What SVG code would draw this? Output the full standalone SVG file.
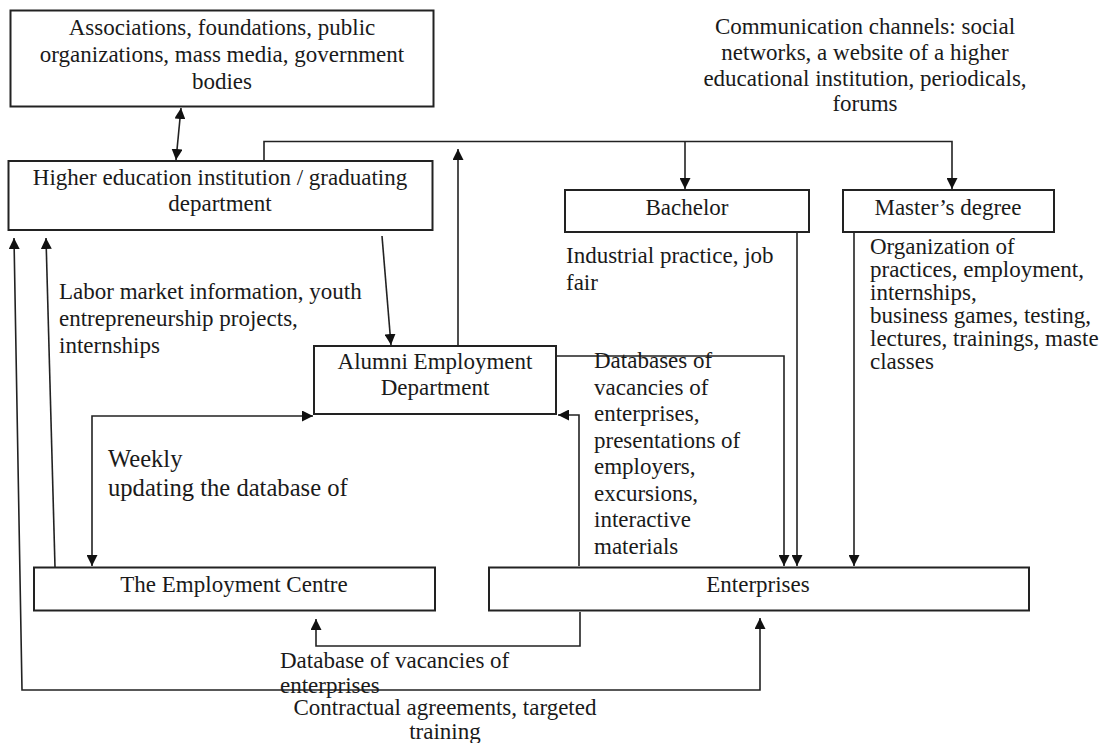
<svg xmlns="http://www.w3.org/2000/svg" width="1111" height="743" viewBox="0 0 1111 743">
<style>
text{font-family:"Liberation Serif","Times New Roman",serif;font-size:23px;fill:#1a1a1a}
.c{text-anchor:middle}
.box{fill:#fff;stroke:#222;stroke-width:2}
.ln{fill:none;stroke:#222;stroke-width:1.6}
.big{font-size:24.6px}
</style>
<defs>
<marker id="ah" viewBox="0 0 10 10" refX="10" refY="5" markerWidth="11" markerHeight="11" markerUnits="userSpaceOnUse" orient="auto-start-reverse">
<path d="M0,0 L10,5 L0,10 z" fill="#111"/>
</marker>
</defs>
<g id="connectors">
<line class="ln" x1="181" y1="108" x2="176" y2="160" marker-start="url(#ah)" marker-end="url(#ah)"/>
<polyline class="ln" points="264,161 264,141.5 952,141.5 952,189" marker-end="url(#ah)"/>
<line class="ln" x1="685" y1="141.5" x2="685" y2="189" marker-end="url(#ah)"/>
<line class="ln" x1="458" y1="346" x2="458" y2="149" marker-end="url(#ah)"/>
<line class="ln" x1="382" y1="236" x2="391" y2="345" marker-end="url(#ah)"/>
<polyline class="ln" points="313,416 92,416 92,566" marker-start="url(#ah)" marker-end="url(#ah)"/>
<line class="ln" x1="55" y1="567" x2="46" y2="238" marker-end="url(#ah)"/>
<polyline class="ln" points="14,238 22,690 760,690 760,618" marker-start="url(#ah)" marker-end="url(#ah)"/>
<polyline class="ln" points="556,356 784,356 784,566" marker-end="url(#ah)"/>
<polyline class="ln" points="579,566 579,415 558,415" marker-end="url(#ah)"/>
<polyline class="ln" points="580,612 580,646 316,646 316,619" marker-end="url(#ah)"/>
<line class="ln" x1="797" y1="233" x2="797" y2="566" marker-end="url(#ah)"/>
<line class="ln" x1="854" y1="232" x2="854" y2="566" marker-end="url(#ah)"/>
</g>
<g id="associations">
<rect class="box" x="10.5" y="10.5" width="423" height="96"/>
<text class="c" x="222" y="35">Associations, foundations, public</text>
<text class="c" x="222" y="62">organizations, mass media, government</text>
<text class="c" x="222" y="89">bodies</text>
</g>
<g id="higher-ed">
<rect class="box" x="8.5" y="161" width="424" height="69"/>
<text class="c" x="220" y="185">Higher education institution / graduating</text>
<text class="c" x="220" y="211">department</text>
</g>
<g id="bachelor">
<rect class="box" x="565" y="190" width="244" height="42"/>
<text class="c" x="687" y="215">Bachelor</text>
</g>
<g id="masters">
<rect class="box" x="843" y="190" width="211" height="42"/>
<text class="c" x="948" y="215">Master’s degree</text>
</g>
<g id="alumni">
<rect class="box" x="314" y="346" width="242" height="68"/>
<text class="c" x="435" y="369">Alumni Employment</text>
<text class="c" x="435" y="395">Department</text>
</g>
<g id="employment-centre">
<rect class="box" x="34" y="567.5" width="401" height="43"/>
<text class="c" x="234" y="592">The Employment Centre</text>
</g>
<g id="enterprises">
<rect class="box" x="489" y="567.5" width="540" height="43"/>
<text class="c" x="758" y="592">Enterprises</text>
</g>
<g id="labels">
<text class="c" x="865" y="34">Communication channels: social</text>
<text class="c" x="865" y="60">networks, a website of a higher</text>
<text class="c" x="865" y="86">educational institution, periodicals,</text>
<text class="c" x="865" y="111">forums</text>
<text x="566" y="263">Industrial practice, job</text>
<text x="566" y="290">fair</text>
<text x="870" y="254">Organization of</text>
<text x="870" y="277">practices, employment,</text>
<text x="870" y="300">internships,</text>
<text x="870" y="323">business games, testing,</text>
<text x="870" y="346">lectures, trainings, maste</text>
<text x="870" y="369">classes</text>
<text x="59" y="299">Labor market information, youth</text>
<text x="59" y="326">entrepreneurship projects,</text>
<text x="59" y="353">internships</text>
<text x="594" y="368">Databases of</text>
<text x="594" y="394.5">vacancies of</text>
<text x="594" y="421">enterprises,</text>
<text x="594" y="447.5">presentations of</text>
<text x="594" y="474">employers,</text>
<text x="594" y="500.5">excursions,</text>
<text x="594" y="527">interactive</text>
<text x="594" y="553.5">materials</text>
<text class="big" x="108" y="467">Weekly</text>
<text class="big" x="108" y="496">updating the database of</text>
<text x="280" y="668">Database of vacancies of</text>
<text x="280" y="693">enterprises</text>
<text class="c" x="445" y="715">Contractual agreements, targeted</text>
<text class="c" x="445" y="739">training</text>
</g>
</svg>
